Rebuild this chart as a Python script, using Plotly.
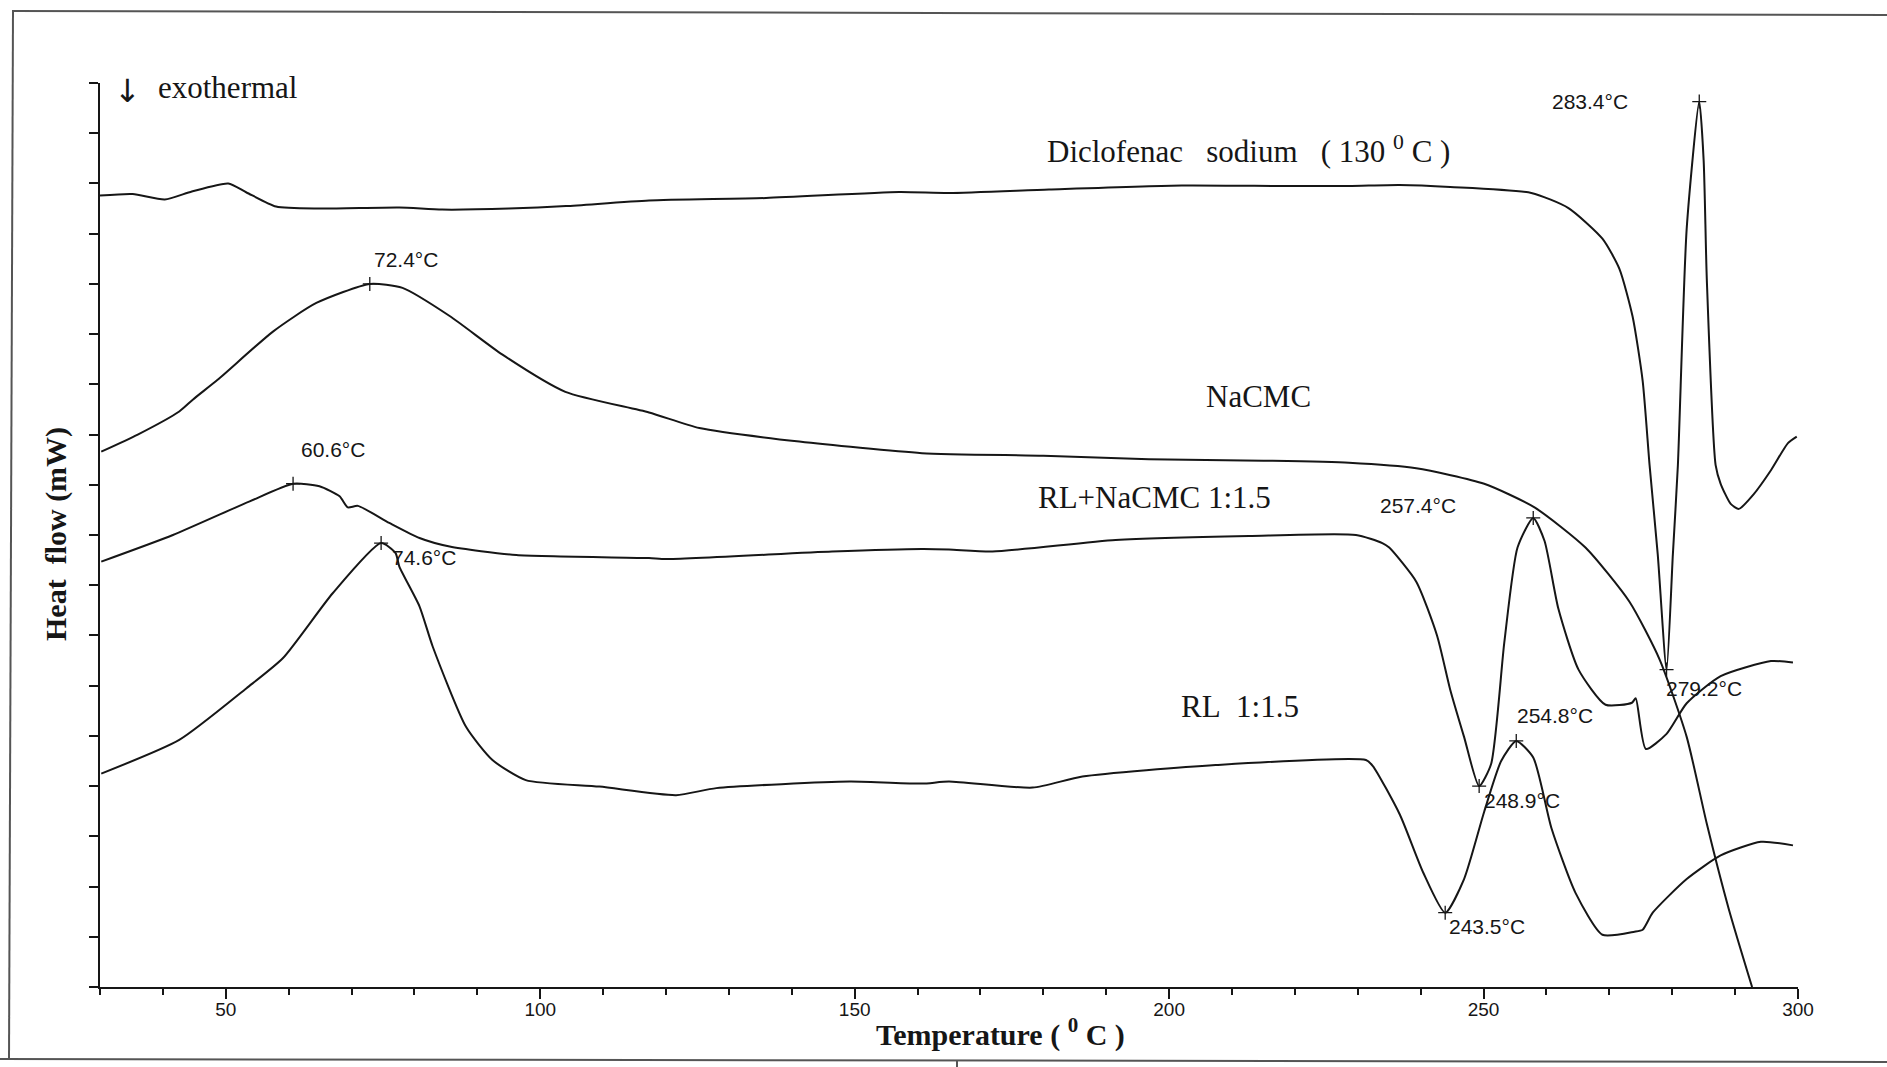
import numpy as np
import plotly.graph_objects as go

# ---------------- data (temperature in deg C, heat flow in arbitrary units) ----------------
dic_T = [30, 35.2, 40.3, 44.6, 50.4, 53.3, 58, 65, 77.6, 84.4, 95, 104.1, 117.3, 135.9, 157.1,
         165, 180.9, 202, 218, 228.6, 236.6, 244.7, 257.6, 263.5, 268.9, 271.6, 273.7, 275.3,
         276.4, 277.7, 279.1, 280.1, 280.9, 282.3, 284.3, 285.0, 285.5, 286.9, 287.7, 289.3,
         290.6, 293.0, 295.7, 298.4, 299.8]
dic_v = [15.76, 15.79, 15.68, 15.84, 16.00, 15.82, 15.54, 15.50, 15.52, 15.48, 15.50, 15.55,
         15.66, 15.71, 15.83, 15.81, 15.88, 15.96, 15.95, 15.95, 15.97, 15.93, 15.81, 15.51,
         14.90, 14.30, 13.35, 12.07, 10.39, 8.61, 6.32, 8.61, 10.39, 15.10, 17.63, 16.45,
         14.09, 10.39, 10.02, 9.62, 9.52, 9.82, 10.29, 10.83, 10.96]

cmc_T = [30.2, 36, 42.6, 44.8, 48.7, 57.5, 64.4, 72.9, 78.1, 85.6, 94, 104, 117.3, 125.3,
         141.2, 160.7, 180, 196.8, 215, 228.6, 239.3, 250.1, 258.1, 266.2, 273.2, 278.0,
         282.3, 285.5, 289.0, 292.7]
cmc_v = [10.66, 11.0, 11.46, 11.70, 12.09, 13.05, 13.62, 14.00, 13.92, 13.36, 12.59, 11.85,
         11.44, 11.13, 10.86, 10.63, 10.58, 10.51, 10.48, 10.44, 10.33, 10.02, 9.55, 8.75,
         7.67, 6.52, 4.98, 3.25, 1.55, 0.0]

mix_T = [30.2, 41.6, 53.8, 60.7, 64.9, 68.1, 69.4, 71.0, 76, 80.8, 85.6, 96.2, 117.3, 120,
         146.4, 160.7, 165, 171.9, 191.5, 212.7, 229.7, 233.9, 235.0, 239.3, 242.6, 244.7,
         246.9, 249.3, 251.2, 253.3, 255.4, 257.9, 259.7, 261.9, 265.1, 269.4, 273.6, 274.2,
         275.8, 279.1, 282.3, 287.7, 295.7, 299.2]
mix_v = [8.47, 9.00, 9.67, 10.02, 9.97, 9.77, 9.55, 9.58, 9.24, 8.94, 8.77, 8.60, 8.54, 8.52,
         8.67, 8.72, 8.71, 8.67, 8.90, 8.98, 9.00, 8.84, 8.75, 8.07, 7.00, 5.92, 4.98, 4.00,
         4.44, 6.86, 8.75, 9.34, 8.88, 7.53, 6.32, 5.62, 5.66, 5.75, 4.74, 5.04, 5.65, 6.19,
         6.49, 6.46]

rl_T = [30.2, 42.6, 53.3, 59.1, 67, 74.7, 77, 77.6, 80.8, 82.9, 88.2, 92.4, 97.7, 109.4,
        121.6, 128, 149.2, 160.7, 165, 178.3, 186.2, 207.4, 231.3, 232.4, 236.7, 240.4, 243.9,
        246.9, 250.1, 252.8, 255.2, 257.9, 260.8, 264.6, 268.9, 274.0, 275.3, 276.9, 282.3,
        287.7, 294.1, 299.2]
rl_v = [4.25, 4.92, 5.95, 6.55, 7.84, 8.84, 8.64, 8.37, 7.58, 6.78, 5.18, 4.52, 4.12, 3.99,
        3.82, 3.96, 4.09, 4.05, 4.09, 3.97, 4.19, 4.42, 4.52, 4.40, 3.43, 2.28, 1.48, 2.15,
        3.49, 4.50, 4.90, 4.57, 3.16, 1.88, 1.04, 1.10, 1.14, 1.48, 2.15, 2.62, 2.89, 2.82]

# positions of the "+" event markers (deg C)
dic_marks = [284.3, 279.1]
cmc_marks = [72.9]
mix_marks = [60.7, 257.9, 249.3]
rl_marks = [74.7, 255.2, 243.9]

# texts
peak_labels = ["283.4°C", "279.2°C", "72.4°C", "60.6°C", "257.4°C", "248.9°C",
               "74.6°C", "254.8°C", "243.5°C"]
curve_names = ["Diclofenac\u00a0\u00a0\u00a0sodium\u00a0\u00a0\u00a0( 130 <sup>0</sup> C )",
               "NaCMC", "RL+NaCMC 1:1.5", "RL\u00a0 1:1.5"]
x_ticks = [50, 100, 150, 200, 250, 300]

# ---------------- figure ----------------
W, H = 1887, 1067
L, R, T, B = 100, 89, 83, 80
pw, ph = W - L - R, H - T - B


def px(x):
    return (x - L) / pw


def py(y):
    return (H - B - y) / ph


ink = "#161616"
fig = go.Figure()
curves = [(dic_T, dic_v, dic_marks), (cmc_T, cmc_v, cmc_marks),
          (mix_T, mix_v, mix_marks), (rl_T, rl_v, rl_marks)]
for xs, ys, mk in curves:
    fig.add_trace(go.Scatter(x=xs, y=ys, mode="lines",
                             line=dict(color=ink, width=2, shape="spline", smoothing=0.6),
                             hoverinfo="skip", showlegend=False))
    fig.add_trace(go.Scatter(x=mk, y=np.interp(mk, xs, ys), mode="markers",
                             marker=dict(symbol="cross-thin", size=10,
                                         line=dict(color=ink, width=1.3)),
                             hoverinfo="skip", showlegend=False))

sans = "Liberation Sans, Arial, sans-serif"
serif = "Liberation Serif, Times New Roman, serif"

# peak labels (data coords)
lab_pos = [(267.0, 17.63), (285.0, 5.95), (78.6, 14.48), (67.1, 10.70), (239.6, 9.58),
           (256.1, 3.71), (81.5, 8.55), (261.3, 5.41), (250.6, 1.21)]
for txt, (x, y) in zip(peak_labels, lab_pos):
    fig.add_annotation(x=x, y=y, text=txt, showarrow=False, xanchor="center",
                       yanchor="middle", font=dict(family=sans, size=21, color=ink))

# curve names
name_pos = [(180.2, 16.67, "left"), (214.2, 11.75, "center"), (197.7, 9.74, "center"),
            (211.2, 5.58, "center")]
for txt, (x, y, anc) in zip(curve_names, name_pos):
    fig.add_annotation(x=x, y=y, text=txt, showarrow=False, xanchor=anc, yanchor="middle",
                       font=dict(family=serif, size=31, color=ink))

# exothermal marker
fig.add_annotation(x=34.4, y=17.85, text="↓", showarrow=False, xanchor="center",
                   yanchor="middle", font=dict(family="DejaVu Sans, sans-serif", size=32,
                                               color=ink))
fig.add_annotation(x=38.9, y=17.92, text="exothermal", showarrow=False,
                   xanchor="left", yanchor="middle", font=dict(family=serif, size=31, color=ink))

# axis titles
fig.add_annotation(xref="paper", yref="paper", x=px(1000), y=py(1032),
                   text="Temperature ( <sup>0</sup> C )", showarrow=False,
                   xanchor="center", yanchor="middle",
                   font=dict(family=serif, size=30, color=ink, weight="bold"))
fig.add_annotation(xref="paper", yref="paper", x=px(56), y=py(534),
                   text="Heat\u00a0\u00a0flow (mW)",
                   textangle=-90, showarrow=False, xanchor="center", yanchor="middle",
                   font=dict(family=serif, size=30, color=ink, weight="bold"))

# scanned-page border lines
border = [((13, 10), (9, 1060)), ((12, 11), (1887, 15)), ((0, 1059), (1887, 1062)),
          ((957, 1061), (957, 1067))]
for (x0, y0), (x1, y1) in border:
    fig.add_shape(type="line", xref="paper", yref="paper", x0=px(x0), y0=py(y0),
                  x1=px(x1), y1=py(y1), line=dict(color="#555", width=2))

fig.update_layout(width=W, height=H, margin=dict(l=L, r=R, t=T, b=B),
                  paper_bgcolor="white", plot_bgcolor="white", showlegend=False)
fig.update_xaxes(range=[30, 300], tickvals=x_ticks, ticks="outside", ticklen=10, tickwidth=2,
                 tickcolor=ink, showline=True, linecolor=ink, linewidth=2, showgrid=False,
                 zeroline=False, tickfont=dict(family=sans, size=19, color=ink),
                 ticklabelstandoff=-6,
                 minor=dict(dtick=10, tick0=0, ticks="outside", ticklen=6, tickwidth=1.5,
                            tickcolor=ink, showgrid=False))
fig.update_yaxes(range=[0, 18], dtick=1, tick0=0, ticks="outside", ticklen=9, tickwidth=1.5,
                 tickcolor=ink, showticklabels=False, showline=True, linecolor=ink,
                 linewidth=2, showgrid=False, zeroline=False)

fig.write_html("out.html", config={"displayModeBar": False},
               post_script="document.body.style.margin='0';document.body.style.overflow='hidden';")
